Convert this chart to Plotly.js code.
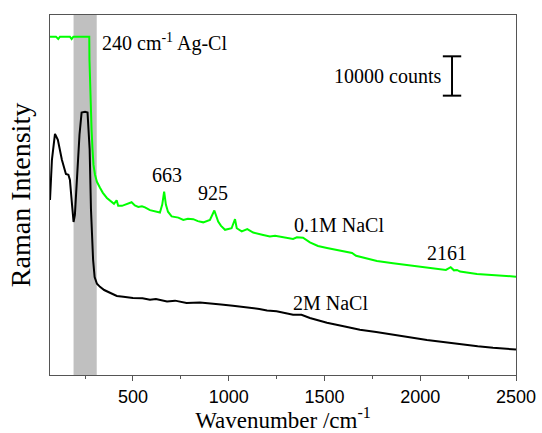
<!DOCTYPE html>
<html>
<head>
<meta charset="utf-8">
<script src="https://cdn.plot.ly/plotly-3.0.1.min.js"></script>
<style>html,body{margin:0;padding:0;background:#fff;}#chart{width:542px;height:433px;}</style>
</head>
<body>
<div id="chart"></div>
<script>
// Wavenumber (cm^-1) and intensity (thousand counts)
var greenX = [67, 98, 110, 119, 171, 180, 189, 272, 273, 278, 284, 289, 294, 302, 312, 328, 343, 364, 380, 401, 415, 423, 443, 463, 493, 510, 528, 547, 563, 589, 615, 641, 653, 663, 672, 683, 702, 737, 763, 787, 815, 839, 867, 902, 925, 945, 960, 981, 1015, 1033, 1042, 1068, 1097, 1128, 1180, 1215, 1242, 1283, 1336, 1356, 1388, 1424, 1466, 1513, 1581, 1644, 1665, 1774, 1858, 1946, 2040, 2103, 2134, 2159, 2176, 2192, 2208, 2296, 2396, 2500];
var greenY = [86.0, 86.0, 85.4, 86.0, 86.0, 85.4, 86.0, 86.0, 80.2, 70.0, 62.3, 57.3, 53.4, 50.9, 49.1, 47.6, 46.3, 45.0, 44.3, 43.5, 44.4, 43.0, 43.0, 43.3, 43.9, 43.1, 42.7, 42.9, 42.6, 41.9, 41.6, 41.3, 43.3, 46.6, 43.3, 41.5, 40.3, 40.0, 39.4, 39.7, 39.6, 39.1, 38.8, 39.4, 41.8, 39.0, 37.9, 36.9, 37.3, 39.6, 37.3, 36.5, 37.1, 36.2, 35.6, 35.2, 35.4, 35.0, 34.6, 35.0, 34.9, 33.7, 32.8, 32.3, 31.6, 31.0, 30.3, 29.0, 28.4, 27.8, 27.2, 26.8, 26.7, 27.4, 26.6, 26.7, 26.3, 25.7, 25.3, 25.0];

var blackX = [67, 77, 93, 108, 129, 150, 163, 171, 182, 190, 197, 208, 221, 232, 250, 263, 274, 281, 292, 300, 312, 328, 350, 380, 400, 416, 450, 500, 550, 589, 620, 678, 720, 780, 850, 900, 960, 1022, 1060, 1111, 1160, 1200, 1250, 1336, 1380, 1424, 1513, 1600, 1685, 1770, 1858, 1950, 2035, 2120, 2208, 2300, 2380, 2450, 2500];
var blackY = [44.5, 54.7, 61.3, 59.8, 54.7, 51.1, 50.9, 49.6, 43.3, 38.9, 40.7, 49.6, 61.1, 66.7, 66.9, 66.7, 57.3, 42.0, 29.3, 24.9, 23.2, 22.4, 21.6, 20.9, 20.4, 20.1, 19.9, 19.6, 19.5, 19.1, 19.3, 18.7, 18.9, 18.3, 18.4, 18.1, 17.9, 17.6, 17.4, 17.0, 16.8, 16.4, 16.2, 15.3, 15.3, 14.5, 13.3, 12.4, 11.5, 10.9, 10.2, 9.5, 8.9, 8.4, 7.8, 7.3, 6.9, 6.7, 6.5];

var bandRange = [190, 311];
var xTicks = [500, 1000, 1500, 2000, 2500];
var scaleBar = {x: 2166, y0: 71.0, y1: 81.0, capHalf: 48};

var peakLabels = ['663', '925', '2161'];
var peakX = [676, 919, 2138];
var peakY = [50.9, 46.2, 31.1];

var serif = 'Liberation Serif, Times New Roman, serif';

var traces = [
  {x: blackX, y: blackY, type: 'scatter', mode: 'lines', line: {color: '#000000', width: 2}, hoverinfo: 'skip'},
  {x: greenX, y: greenY, type: 'scatter', mode: 'lines', line: {color: '#00ff00', width: 2}, hoverinfo: 'skip'}
];

var annotations = [];
for (var i = 0; i < peakLabels.length; i++) {
  annotations.push({x: peakX[i], y: peakY[i], text: peakLabels[i], showarrow: false, xanchor: 'center', yanchor: 'middle', font: {family: serif, size: 20, color: '#000'}});
}
annotations.push({x: 328, y: 84.6, text: '240 cm<sup>-1</sup> Ag-Cl', showarrow: false, xanchor: 'left', yanchor: 'middle', font: {family: serif, size: 20, color: '#000'}});
annotations.push({x: 2119, y: 75.9, text: '10000 counts', showarrow: false, xanchor: 'right', yanchor: 'middle', font: {family: serif, size: 20, color: '#000'}});
annotations.push({x: 1576, y: 38.2, text: '0.1M NaCl', showarrow: false, xanchor: 'center', yanchor: 'middle', font: {family: serif, size: 20, color: '#000'}});
annotations.push({x: 1529, y: 18.2, text: '2M NaCl', showarrow: false, xanchor: 'center', yanchor: 'middle', font: {family: serif, size: 20, color: '#000'}});

var shapes = [
  {type: 'rect', xref: 'x', yref: 'paper', x0: bandRange[0], x1: bandRange[1], y0: 0, y1: 1, fillcolor: '#c0c0c0', line: {width: 0}, layer: 'below'},
  {type: 'line', xref: 'x', yref: 'y', x0: scaleBar.x, x1: scaleBar.x, y0: scaleBar.y0, y1: scaleBar.y1, line: {color: '#000', width: 2}},
  {type: 'line', xref: 'x', yref: 'y', x0: scaleBar.x - scaleBar.capHalf, x1: scaleBar.x + scaleBar.capHalf, y0: scaleBar.y0, y1: scaleBar.y0, line: {color: '#000', width: 2}},
  {type: 'line', xref: 'x', yref: 'y', x0: scaleBar.x - scaleBar.capHalf, x1: scaleBar.x + scaleBar.capHalf, y0: scaleBar.y1, y1: scaleBar.y1, line: {color: '#000', width: 2}}
];

var layout = {
  width: 542, height: 433,
  margin: {l: 50, r: 26, t: 15, b: 58},
  paper_bgcolor: '#fff', plot_bgcolor: '#fff',
  showlegend: false,
  xaxis: {
    range: [67, 2500], tickvals: xTicks, ticktext: xTicks.map(String),
    ticks: 'outside', ticklen: 5, tickwidth: 1, tickcolor: '#555',
    minor: {ticks: 'outside', dtick: 250, tick0: 0, ticklen: 3, tickcolor: '#555'},
    showline: true, linecolor: '#555', linewidth: 1, mirror: true,
    showgrid: false, zeroline: false,
    tickfont: {family: 'Liberation Sans, Arial, sans-serif', size: 18, color: '#000'},
    title: {text: 'Wavenumber /cm<sup>-1</sup>', font: {family: serif, size: 23, color: '#000'}, standoff: 2}
  },
  yaxis: {
    range: [0, 91.5], showticklabels: false, ticks: '',
    showline: true, linecolor: '#555', linewidth: 1, mirror: true,
    showgrid: false, zeroline: false,
    title: {text: 'Raman Intensity', font: {family: serif, size: 28, color: '#000'}, standoff: 10}
  },
  shapes: shapes,
  annotations: annotations
};

Plotly.newPlot('chart', traces, layout, {displayModeBar: false, staticPlot: true});
</script>
</body>
</html>
